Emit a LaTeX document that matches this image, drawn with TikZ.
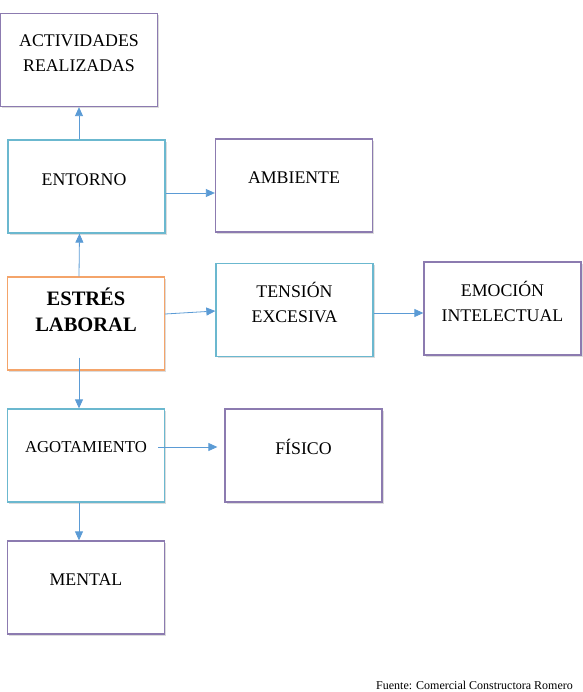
\documentclass[tikz,border=0pt]{standalone}
\usepackage{fontspec}
\setmainfont{Liberation Serif}
\usetikzlibrary{arrows.meta,shadows,calc}
\definecolor{cpurple}{HTML}{8C7BB0}
\definecolor{cteal}{HTML}{6BB8CF}
\definecolor{corange}{HTML}{F4A46A}
\definecolor{carrow}{HTML}{5B9BD5}
\tikzset{
  box/.style={draw=#1, line width=1.3pt, fill=white, minimum width=157pt, minimum height=93pt, inner sep=0pt,
    drop shadow={shadow xshift=1.5pt, shadow yshift=-1.8pt, opacity=0.3, fill=black!45}},
  txt/.style={font=\fontsize{17.8}{25}\selectfont, align=center, inner sep=0pt},
  arr/.style={draw=carrow, line width=0.8pt, -{Triangle[length=9pt,width=8pt]}}
}
\begin{document}
\begin{tikzpicture}[x=1pt,y=-1pt]
\useasboundingbox (0,0) rectangle (582,692);
% boxes
\node[box=cpurple] (act) at (79,60) {};
\node[box=cteal] (ent) at (86.5,186.5) {};
\node[box=cpurple] (amb) at (294,185.5) {};
\node[box=corange] (est) at (86,323.5) {};
\node[box=cteal] (ten) at (294.5,310) {};
\node[box=cpurple] (emo) at (502.5,308.5) {};
\node[box=cteal] (ago) at (86,455.5) {};
\node[box=cpurple] (fis) at (303.5,455.5) {};
\node[box=cpurple] (men) at (86,587.5) {};
% texts
\node[txt] (tact) at (79,53.5) {ACTIVIDADES\\REALIZADAS};
\node[txt] (tent) at (84,180) {ENTORNO};
\node[txt] (tamb) at (294,178) {AMBIENTE};
\node[txt, font=\fontsize{20.5}{26}\selectfont\bfseries] (test) at (86,310) {ESTRÉS\\LABORAL};
\node[txt] (tten) at (294.5,302) {TENSIÓN\\EXCESIVA};
\node[txt] (temo) at (502.5,301) {EMOCIÓN\\INTELECTUAL};
\node[txt, font=\fontsize{16.7}{24}\selectfont] (tago) at (86,447) {AGOTAMIENTO};
\node[txt] (tfis) at (303.5,447) {FÍSICO};
\node[txt] (tmen) at (86,580) {MENTAL};
\node[font=\fontsize{12}{14}\selectfont, anchor=base west, inner sep=0pt] (src) at (376,689.5) {Fuente: Comercial Constructora Romero};
% connectors
\draw[arr] (act.south |- ent.north) -- (act.south);
\draw[arr] ([xshift=-7pt]est.north) -- ([xshift=-7pt]ent.south);
\draw[arr] ([yshift=-6.5pt]ent.east) -- ([yshift=-6.5pt]ent.east -| amb.west);
\draw[arr] ([yshift=9.5pt]est.east) -- ([yshift=-1pt]ten.west);
\draw[arr] ([yshift=-3pt]ten.east) -- ([yshift=-3pt]ten.east -| emo.west);
\draw[arr] ([xshift=-7pt,yshift=13pt]est.south) -- ([xshift=-7pt]ago.north);
\draw[arr] ([xshift=-7pt,yshift=8.5pt]ago.east) -- ([xshift=-7pt,yshift=8.5pt]ago.east -| fis.west);
\draw[arr] ([xshift=-7pt]ago.south) -- ([xshift=-7pt]men.north);
\end{tikzpicture}
\end{document}
